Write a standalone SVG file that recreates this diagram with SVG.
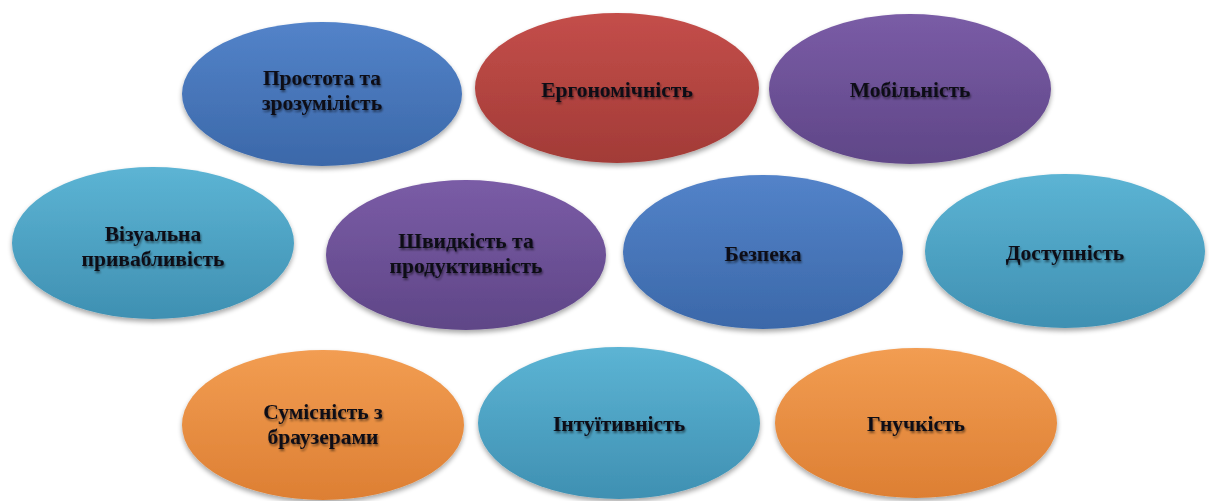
<svg xmlns="http://www.w3.org/2000/svg" width="1209" height="501" viewBox="0 0 1209 501">
<defs>
<linearGradient id="gBlue" x1="0" y1="0" x2="0" y2="1"><stop offset="0" stop-color="#5383c9"/><stop offset="1" stop-color="#3b68a9"/></linearGradient>
<linearGradient id="gRed" x1="0" y1="0" x2="0" y2="1"><stop offset="0" stop-color="#c44e4a"/><stop offset="1" stop-color="#a23b37"/></linearGradient>
<linearGradient id="gPurple" x1="0" y1="0" x2="0" y2="1"><stop offset="0" stop-color="#7a5ca6"/><stop offset="1" stop-color="#5f4687"/></linearGradient>
<linearGradient id="gTeal" x1="0" y1="0" x2="0" y2="1"><stop offset="0" stop-color="#5cb4d4"/><stop offset="1" stop-color="#3f90b2"/></linearGradient>
<linearGradient id="gOrange" x1="0" y1="0" x2="0" y2="1"><stop offset="0" stop-color="#f29d52"/><stop offset="1" stop-color="#dd7f33"/></linearGradient>
<filter id="sh" x="-10%" y="-10%" width="120%" height="130%"><feGaussianBlur in="SourceAlpha" stdDeviation="2.5"/><feOffset dx="0" dy="3"/><feComponentTransfer><feFuncA type="linear" slope="0.35"/></feComponentTransfer><feMerge><feMergeNode/><feMergeNode in="SourceGraphic"/></feMerge></filter>
<filter id="ts" x="-5%" y="-20%" width="110%" height="150%"><feGaussianBlur in="SourceAlpha" stdDeviation="1.2"/><feOffset dx="1" dy="1.5"/><feComponentTransfer><feFuncA type="linear" slope="0.5"/></feComponentTransfer><feMerge><feMergeNode/><feMergeNode in="SourceGraphic"/></feMerge></filter>
</defs>
<style>
.e{filter:url(#sh)}
.t{font-family:"Liberation Serif","Times New Roman",serif;font-weight:bold;font-size:21.5px;fill:#0d0d18;text-anchor:middle;filter:url(#ts)}
</style>
<rect width="1209" height="501" fill="#ffffff"/>
<g id="connectors"/>
<g id="n1"><ellipse class="e" cx="322" cy="94" rx="140" ry="72" fill="url(#gBlue)"/><text class="t" x="322" y="85">Простота та</text><text class="t" x="322" y="110">зрозумілість</text></g>
<g id="n2"><ellipse class="e" cx="617" cy="88" rx="142" ry="75" fill="url(#gRed)"/><text class="t" x="617" y="97">Ергономічність</text></g>
<g id="n3"><ellipse class="e" cx="910" cy="89" rx="141" ry="75" fill="url(#gPurple)"/><text class="t" x="910" y="97">Мобільність</text></g>
<g id="n4"><ellipse class="e" cx="153" cy="243" rx="141" ry="76" fill="url(#gTeal)"/><text class="t" x="153" y="241">Візуальна</text><text class="t" x="153" y="266">привабливість</text></g>
<g id="n5"><ellipse class="e" cx="466" cy="255" rx="140" ry="75" fill="url(#gPurple)"/><text class="t" x="466" y="248">Швидкість та</text><text class="t" x="466" y="273">продуктивність</text></g>
<g id="n6"><ellipse class="e" cx="763" cy="252" rx="140" ry="77" fill="url(#gBlue)"/><text class="t" x="763" y="261">Безпека</text></g>
<g id="n7"><ellipse class="e" cx="1065" cy="251" rx="140" ry="77" fill="url(#gTeal)"/><text class="t" x="1065" y="260">Доступність</text></g>
<g id="n8"><ellipse class="e" cx="323" cy="425" rx="141" ry="75" fill="url(#gOrange)"/><text class="t" x="323" y="419">Сумісність з</text><text class="t" x="323" y="444">браузерами</text></g>
<g id="n9"><ellipse class="e" cx="619" cy="423" rx="141" ry="76" fill="url(#gTeal)"/><text class="t" x="619" y="431">Інтуїтивність</text></g>
<g id="n10"><ellipse class="e" cx="916" cy="423" rx="141" ry="75" fill="url(#gOrange)"/><text class="t" x="916" y="431">Гнучкість</text></g>
</svg>
